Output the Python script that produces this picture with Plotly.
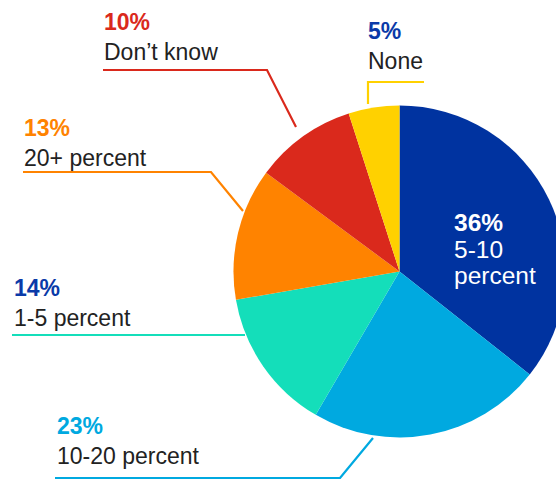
import plotly.graph_objects as go

# ---- data ----
categories = ["5-10 percent", "10-20 percent", "1-5 percent", "20+ percent", "Don’t know", "None"]
values = [36, 23, 14, 13, 10, 5]
slice_colors = ["#0033A0", "#00A9E0", "#14DEBA", "#FF8300", "#DA291C", "#FFD100"]
pct_colors = ["#FFFFFF", "#00A9E0", "#0A3AA8", "#FF8300", "#DA291C", "#0A3AA8"]

W, H = 580, 479
TXT = "#222222"
FONT = "Liberation Sans, Arial, Helvetica, sans-serif"

fig = go.Figure()
cx, cy, r = 399.5, 271.5, 166
fig.add_trace(go.Pie(
    values=values, labels=categories, sort=False, direction="clockwise",
    marker=dict(colors=slice_colors, line=dict(width=0)),
    textinfo="none", hoverinfo="none", showlegend=False,
    domain=dict(x=[(cx - r) / W, (cx + r) / W], y=[1 - (cy + r) / H, 1 - (cy - r) / H]),
))

# outside label layout: (category index, left x, cap top y, leader line path)
outside = [
    (4, 102, 14, [(103, 70), (267, 70), (296, 127)]),
    (5, 366, 23, [(424, 82), (368, 82), (368, 104)]),
    (3, 22, 120, [(23, 172), (211, 172), (243, 211)]),
    (2, 12, 280, [(12, 335), (245, 335)]),
    (1, 55, 418, [(55, 478), (340, 478), (373, 438)]),
]
annotations = []
shapes = []
for idx, lx, top, pts in outside:
    annotations.append(dict(
        x=lx, y=top - 7, xref="x", yref="y", xanchor="left", yanchor="top",
        showarrow=False, align="left",
        text=f"<span style='color:{pct_colors[idx]}'><b>{values[idx]}%</b></span><br>{categories[idx]}",
        font=dict(family=FONT, size=23, color=TXT),
    ))
    path = "M " + " L ".join(f"{x},{y}" for x, y in pts)
    shapes.append(dict(type="path", path=path, xref="x", yref="y",
                       line=dict(color=slice_colors[idx], width=2.2)))

# inside label for the largest slice (tight line spacing: small base font, larger glyphs)
inner_lines = [f"<b>{values[0]}%</b>"] + categories[0].split(" ")
inner_text = "<br>".join(f"<span style='font-size:24.5px'>{t}</span>" for t in inner_lines)
annotations.append(dict(
    x=452, y=249, xref="x", yref="y", xanchor="left", yanchor="middle",
    showarrow=False, align="left", text=inner_text,
    font=dict(family=FONT, size=20.5, color="#FFFFFF"),
))

fig.update_layout(
    width=W, height=H, margin=dict(l=0, r=0, t=0, b=0),
    paper_bgcolor="white", plot_bgcolor="rgba(0,0,0,0)",
    xaxis=dict(range=[0, W], visible=False, fixedrange=True),
    yaxis=dict(range=[H, 0], visible=False, fixedrange=True),
    annotations=annotations, shapes=shapes,
)

fig.write_html("out.html", config={"displayModeBar": False, "responsive": False},
               post_script="document.body.style.margin='0';document.body.style.overflow='hidden';")
